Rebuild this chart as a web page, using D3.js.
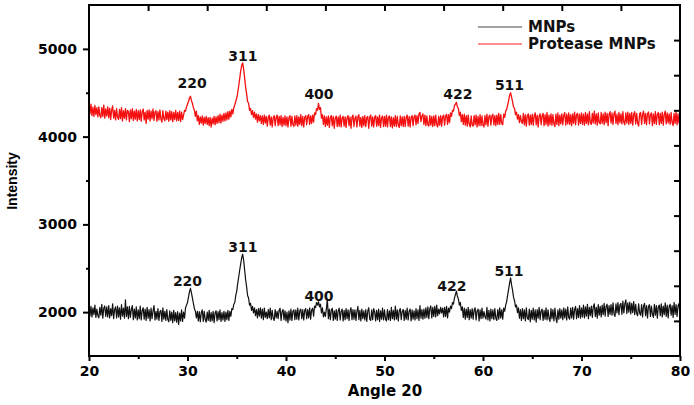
<!DOCTYPE html>
<html><head><meta charset="utf-8">
<script src="https://cdn.jsdelivr.net/npm/d3@7"></script>
<style>body{margin:0;background:#fff}svg{display:block}</style>
</head><body><svg id="c" width="694" height="405"></svg>
<script>
// sampling grid of the scan: 20.0 to 80.0 deg, 0.1 deg step
const angleStart = 20, angleStep = 0.1;
const seriesNames = ["MNPs", "Protease MNPs"];
const xTicks = [20, 30, 40, 50, 60, 70, 80];
const yTicks = [2000, 3000, 4000, 5000];
const peakLabels = ["220", "311", "400", "422", "511"];
const mnpLabelAngles = [30.0, 35.63, 43.35, 56.85, 62.64];
const mnpLabelValues = [2360, 2748, 2189, 2303, 2474];
const protLabelAngles = [30.46, 35.63, 43.35, 57.46, 62.69];
const protLabelValues = [4611, 4924, 4491, 4486, 4594];

const mnps = [
2040,1955,2065,1945,2050,1970,2080,1940,2035,1960,
1935,2055,1965,2090,1930,2045,2070,1950,2060,1945,
2075,1935,2040,1960,2095,1925,2030,2060,1935,2070,
1945,2050,1920,2085,1955,2045,1930,2140,1950,2060,
1925,2065,1940,2030,2075,1915,2035,1935,2060,1910,
2025,1925,2070,1910,2020,2050,1920,2035,1905,2055,
1930,2030,1900,2045,1925,2015,2075,1910,2010,1920,
2040,1905,2005,2020,1895,2050,1920,2010,1905,2030,
1915,1890,2015,1905,2000,1880,2020,1900,1995,1885,
2005,1860,1990,1900,2025,1895,2000,1930,2050,2080,
2110,2170,2230,2270,2220,2160,2100,2040,2010,1935,
2010,1900,2005,1890,1995,2025,1895,2010,1915,1885,
2000,1905,2020,1895,1995,1900,2010,1880,1990,2015,
1900,2005,1915,2025,1895,1995,1910,2010,1895,2000,
1915,2020,1905,2010,1950,2040,2030,2090,2110,2190,
2240,2330,2400,2480,2550,2620,2660,2590,2480,2370,
2290,2190,2160,2080,2100,2020,2065,1990,2050,1960,
2030,1935,2040,1955,2050,1930,2035,1915,2045,1940,
2000,1925,2030,1935,2045,1915,2020,1930,1905,2030,
1935,2010,1925,2020,2045,1905,2005,2030,1915,2015,
1900,2000,1880,2015,1910,2035,1905,2010,2025,1915,
2025,1920,2045,1910,2015,2035,1925,2030,1910,2020,
2040,1925,2030,1935,2050,1920,2025,2045,1955,2070,
2050,2110,2080,2120,2060,2090,1990,2050,1945,2000,
1950,2040,2150,1925,2035,1915,2020,2045,1905,2015,
1920,2030,1905,2015,2045,1910,2010,2035,1900,2020,
1915,2040,1925,2025,1905,2015,2050,1915,2030,1920,
2025,1905,2010,2065,1915,2020,1900,2035,1925,2015,
1910,2030,1895,2010,2050,1920,1905,2025,1915,2040,
2005,1900,2020,1915,2035,1895,2015,1920,2045,1910,
2025,1920,1900,2030,1915,2015,1905,2055,1925,2020,
1910,2070,1920,2025,1900,2015,2040,1915,2010,2030,
1905,2020,1920,2045,1910,2010,2035,1900,2025,1920,
2015,1910,2040,1925,2025,1905,2075,1930,2030,1920,
2035,1930,2050,1940,2060,1925,2040,2070,1935,2055,
1950,2065,1945,2080,1960,2035,1980,2055,1990,2045,
1945,2055,1950,2065,1935,2045,2000,2070,2040,2110,
2090,2160,2200,2240,2180,2150,2080,2110,2020,2060,
1940,2045,1920,2035,1940,2055,1915,2030,1930,2040,
1920,2025,2050,1910,2015,2035,1900,2025,1925,2045,
1930,2005,1950,1920,2055,1910,2020,1900,2035,1925,
2025,1915,2040,1930,1905,2030,1920,2050,1935,2025,
1920,2045,2010,2080,2120,2190,2260,2330,2390,2310,
2250,2170,2130,2060,2080,1995,2050,1930,2030,1905,
2040,1925,2025,1900,2050,1935,1915,2035,1890,2020,
1920,2045,1910,2025,1885,2030,1930,2055,1915,2015,
2035,1905,2020,1920,2050,1910,2025,1930,1895,2040,
1925,2030,1900,2045,1935,1880,2025,1920,2040,1930,
2025,1915,2050,1935,2035,1910,2060,1940,1920,2045,
1935,2055,1920,2030,2065,1925,2040,1940,2075,1930,
2050,1945,2080,1935,2060,1955,2090,1925,2055,1960,
2070,1940,2065,2095,1950,2055,1930,2085,1965,2065,
1945,2080,1970,2100,1955,2065,2090,1950,2075,1975,
2085,1965,2105,1980,1950,2095,1990,2110,1970,2080,
2100,1975,2125,1990,2095,2140,1985,2105,2000,2115,
1980,2100,1995,2120,1970,2090,1985,1960,2095,1990,
1965,2085,1945,2070,2100,1960,2075,1935,2065,2085,
1950,2070,1975,1940,2090,1965,2075,1930,2060,2080,
1960,2095,1945,2070,1970,2105,1950,2080,1935,2065,
2090,1965,2075,1940,2110,1975,2085,1950,2070,2100,
1970];

const proteaseMnps = [
4350,4260,4370,4240,4335,4230,4355,4250,4330,4225,
4340,4240,4215,4330,4230,4360,4210,4315,4235,4340,
4215,4325,4195,4305,4350,4210,4300,4190,4320,4220,
4195,4310,4205,4330,4180,4295,4210,4320,4190,4300,
4285,4170,4305,4205,4320,4185,4290,4200,4310,4180,
4295,4195,4305,4175,4285,4315,4190,4280,4150,4300,
4200,4305,4180,4290,4205,4315,4185,4280,4295,4175,
4285,4190,4305,4200,4165,4295,4205,4180,4290,4195,
4280,4175,4295,4190,4285,4170,4275,4195,4300,4180,
4275,4185,4290,4170,4280,4195,4245,4300,4290,4340,
4370,4400,4440,4460,4410,4380,4330,4300,4230,4290,
4180,4240,4140,4225,4155,4235,4130,4220,4150,4230,
4140,4215,4125,4220,4110,4210,4145,4230,4135,4225,
4150,4240,4160,4255,4155,4245,4175,4265,4180,4270,
4190,4285,4200,4290,4225,4310,4260,4330,4360,4400,
4440,4500,4580,4660,4750,4810,4840,4770,4670,4560,
4490,4400,4380,4300,4320,4250,4295,4220,4280,4200,
4260,4165,4250,4180,4240,4150,4235,4140,4245,4155,
4230,4120,4220,4245,4130,4225,4110,4215,4240,4125,
4220,4245,4125,4230,4135,4240,4115,4220,4130,4235,
4125,4225,4110,4215,4240,4120,4230,4135,4115,4235,
4130,4240,4120,4225,4140,4250,4125,4230,4110,4220,
4240,4135,4230,4250,4140,4235,4150,4245,4165,4270,
4250,4320,4300,4380,4310,4330,4210,4250,4140,4235,
4115,4225,4130,4235,4105,4220,4240,4125,4230,4095,
4210,4235,4115,4225,4120,4245,4110,4215,4230,4120,
4225,4105,4215,4240,4125,4225,4095,4220,4245,4115,
4210,4235,4110,4225,4250,4120,4220,4105,4230,4125,
4240,4115,4215,4230,4095,4220,4245,4120,4225,4110,
4220,4240,4120,4225,4125,4245,4105,4215,4235,4115,
4230,4120,4245,4110,4220,4235,4115,4225,4100,4215,
4120,4240,4115,4230,4130,4105,4235,4125,4225,4115,
4230,4115,4220,4245,4120,4230,4110,4220,4240,4125,
4225,4245,4135,4240,4150,4260,4275,4170,4235,4260,
4140,4245,4125,4235,4135,4120,4240,4130,4230,4115,
4235,4125,4245,4135,4110,4230,4130,4240,4120,4225,
4245,4130,4235,4255,4140,4250,4160,4270,4230,4300,
4290,4350,4370,4390,4340,4320,4240,4280,4170,4250,
4140,4255,4130,4240,4120,4245,4140,4110,4235,4130,
4120,4240,4135,4245,4110,4230,4125,4250,4125,4235,
4130,4110,4240,4135,4255,4120,4230,4245,4130,4235,
4255,4135,4240,4125,4245,4140,4265,4140,4250,4150,
4135,4255,4220,4290,4310,4360,4410,4470,4500,4450,
4400,4340,4320,4250,4280,4200,4250,4160,4240,4170,
4150,4265,4135,4250,4120,4240,4260,4130,4245,4140,
4255,4130,4240,4270,4135,4245,4110,4235,4260,4135,
4240,4265,4125,4250,4140,4275,4120,4245,4135,4260,
4130,4250,4145,4115,4255,4140,4270,4125,4245,4145,
4260,4135,4245,4275,4130,4255,4145,4270,4140,4250,
4125,4260,4150,4280,4135,4250,4265,4130,4255,4150,
4270,4140,4255,4130,4275,4150,4260,4135,4285,4155,
4140,4265,4155,4290,4145,4260,4130,4270,4160,4145,
4275,4150,4260,4135,4280,4160,4265,4125,4255,4285,
4155,4270,4140,4260,4290,4150,4255,4135,4275,4160,
4260,4145,4285,4160,4135,4270,4155,4280,4140,4265,
4150,4275,4130,4255,4285,4145,4265,4155,4120,4260,
4275,4140,4255,4290,4150,4265,4135,4260,4280,4145,
4250,4270,4125,4260,4150,4285,4140,4255,4275,4135,
4265,4150,4280,4130,4255,4290,4145,4270,4155,4260,
4140,4275,4160,4125,4265,4150,4285,4135,4260,4155,
4255];

const svg = d3.select("#c");
const m = {l: 89, r: 680, t: 5, b: 356};
const x = d3.scaleLinear().domain([20, 80]).range([m.l, m.r]);
const y = d3.scaleLinear().domain([1500, 5500]).range([m.b, m.t]);
const numFont = "'DejaVu Sans', Verdana, sans-serif";

// data lines
const line = d3.line().x((d, i) => x(angleStart + i * angleStep)).y(d => y(d));
svg.append("path").datum(mnps).attr("d", line)
  .attr("fill", "none").attr("stroke", "#111").attr("stroke-width", 1.2).attr("stroke-linejoin", "round");
svg.append("path").datum(proteaseMnps).attr("d", line)
  .attr("fill", "none").attr("stroke", "#f41010").attr("stroke-width", 1.3).attr("stroke-linejoin", "round");

// axes
function styleAxis(g) {
  g.select(".domain").remove();
  g.selectAll(".tick line").attr("stroke", "#000").attr("stroke-width", 2);
  g.selectAll("text").attr("font-family", numFont).attr("font-weight", "bold")
    .attr("font-size", 14).attr("fill", "#000");
}
svg.append("g").attr("transform", `translate(0,${m.b})`)
  .call(d3.axisBottom(x).tickValues(xTicks).tickFormat(d3.format("d")).tickSize(5).tickPadding(5))
  .call(styleAxis);
svg.append("g").attr("transform", `translate(0,${m.b})`)
  .call(d3.axisBottom(x).tickValues(d3.range(25, 80, 10)).tickFormat("").tickSize(3))
  .call(styleAxis);
svg.append("g").attr("transform", `translate(${m.l},0)`)
  .call(d3.axisLeft(y).tickValues(yTicks).tickFormat(d3.format("d")).tickSize(6).tickPadding(6))
  .call(styleAxis);
svg.append("g").attr("transform", `translate(${m.l},0)`)
  .call(d3.axisLeft(y).tickValues([2500, 3500, 4500]).tickFormat("").tickSize(3))
  .call(styleAxis);
// top and right mirrored axes with 10 inward divisions
svg.append("g").attr("transform", `translate(0,${m.t})`)
  .call(d3.axisBottom(x).tickValues(d3.range(1, 10).map(k => 20 + k * 6)).tickFormat("").tickSize(6))
  .call(styleAxis);
svg.append("g").attr("transform", `translate(${m.r},0)`)
  .call(d3.axisLeft(y).tickValues(d3.range(1, 10).map(k => 1500 + k * 400)).tickFormat("").tickSize(6))
  .call(styleAxis);

// frame
svg.append("rect").attr("x", m.l).attr("y", m.t).attr("width", m.r - m.l).attr("height", m.b - m.t)
  .attr("fill", "none").attr("stroke", "#000").attr("stroke-width", 2);

// axis titles
svg.append("text").attr("x", 385).attr("y", 396).attr("text-anchor", "middle")
  .attr("font-family", numFont).attr("font-weight", "bold").attr("font-size", 15).text("Angle 20");
svg.append("text").attr("transform", "translate(17,181) rotate(-90)").attr("text-anchor", "middle")
  .attr("font-family", "'Liberation Sans', Arial, sans-serif").attr("font-weight", "bold")
  .attr("font-size", 14).text("Intensity");

// peak labels
function labels(angles, vals) {
  svg.append("g").selectAll("text").data(peakLabels).join("text")
    .attr("x", (d, i) => x(angles[i])).attr("y", (d, i) => y(vals[i])).attr("dy", "0.36em")
    .attr("text-anchor", "middle").attr("font-family", numFont).attr("font-weight", "bold")
    .attr("font-size", 14).attr("fill", "#111").text(d => d);
}
labels(protLabelAngles, protLabelValues);
labels(mnpLabelAngles, mnpLabelValues);

// legend
const legColors = ["#444", "#ff1a1a"];
const leg = svg.append("g");
seriesNames.forEach((n, i) => {
  const yy = 27 + i * 17;
  leg.append("line").attr("x1", 478).attr("x2", 522).attr("y1", yy).attr("y2", yy)
    .attr("stroke", legColors[i]).attr("stroke-width", 1);
  leg.append("text").attr("x", 528).attr("y", yy).attr("dy", "0.36em")
    .attr("font-family", numFont).attr("font-weight", "bold").attr("font-size", 15)
    .attr("fill", "#111").text(n);
});
</script></body></html>
